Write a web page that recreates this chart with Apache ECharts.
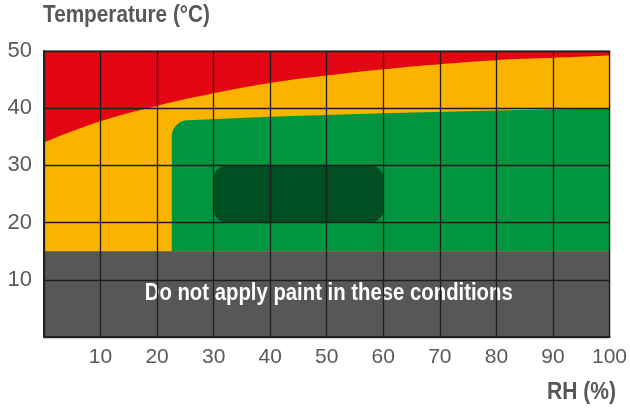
<!DOCTYPE html>
<html>
<head>
<meta charset="utf-8">
<script src="https://cdn.jsdelivr.net/npm/echarts@6/dist/echarts.min.js"></script>
<style>
  html, body { margin: 0; padding: 0; background: #fff; }
  #chart { width: 630px; height: 408px; }
</style>
</head>
<body>
<div id="chart"></div>
<script>
// RH (%) along the bottom, temperature (°C) up the side
const rhTicks = [0, 10, 20, 30, 40, 50, 60, 70, 80, 90, 100];
const tempTicks = [0, 10, 20, 30, 40, 50];

// upper limit: red above, orange below
const limitRh = [0, 10, 20, 30, 40, 50, 60, 70, 80, 90, 100];
const limitTemp = [34.0, 37.7, 40.4, 42.6, 44.4, 45.7, 46.8, 47.7, 48.4, 48.8, 49.2];

// green zone (top edge), bottom sits on the grey band
const goodRh = [22.6, 40, 60, 80, 100];
const goodTop = [37.9, 38.5, 39.1, 39.6, 40.0];

// dark green ideal box
const idealRh = [30, 60];
const idealTemp = [20, 30];

// grey band
const noPaintRh = [0, 100];
const noPaintTemp = [0, 15];
const noPaintText = 'Do not apply paint in these conditions';

const FONT = "'Liberation Sans', Arial, sans-serif";

// no condensed font installed, so squeeze bold text to the reference width
const ctx = document.createElement('canvas').getContext('2d');
function squeeze(text, font, width) {
  ctx.font = font;
  return width / ctx.measureText(text).width;
}

const titleFont = 'bold 23px ' + FONT;
const bandFont = 'bold 24px ' + FONT;

const myChart = echarts.init(document.getElementById('chart'));

const option = {
  animation: false,
  grid: {
    left: 44, right: 14, top: 51, bottom: 71,
    show: true,
    borderColor: '#7a7a7a',
    borderWidth: 1.5
  },
  graphic: [
    {
      type: 'text', x: 43, y: 16,
      scaleX: squeeze('Temperature (°C)', titleFont, 167),
      style: { text: 'Temperature (°C)', fill: '#58585a', font: titleFont, align: 'left', verticalAlign: 'middle' }
    },
    {
      type: 'text', x: 616, y: 393,
      scaleX: squeeze('RH (%)', titleFont, 69),
      style: { text: 'RH (%)', fill: '#58585a', font: titleFont, align: 'right', verticalAlign: 'middle' }
    }
  ],
  xAxis: {
    type: 'value',
    min: rhTicks[0], max: rhTicks[rhTicks.length - 1], interval: 10,
    z: 10,
    axisLine: { show: true, onZero: false, lineStyle: { color: '#222', width: 2 } },
    axisTick: { show: false },
    splitLine: { show: true, lineStyle: { color: '#1e1e1e', width: 1.3 } },
    axisLabel: {
      margin: 10, color: '#5a5a5a', fontSize: 21, fontFamily: FONT,
      formatter: (v) => (v === 0 ? '' : String(v))
    }
  },
  yAxis: {
    type: 'value',
    min: tempTicks[0], max: tempTicks[tempTicks.length - 1], interval: 10,
    z: 10,
    axisLine: { show: true, onZero: false, lineStyle: { color: '#222', width: 2 } },
    axisTick: { show: false },
    splitLine: { show: true, lineStyle: { color: '#1e1e1e', width: 1.3 } },
    axisLabel: {
      margin: 12, color: '#5a5a5a', fontSize: 22, fontFamily: FONT,
      formatter: (v) => (v === 0 ? '' : String(v))
    }
  },
  series: [
    {
      // red: everything up to the top
      type: 'line',
      data: [[rhTicks[0], tempTicks[tempTicks.length - 1]], [rhTicks[rhTicks.length - 1], tempTicks[tempTicks.length - 1]]],
      symbol: 'none',
      lineStyle: { width: 0 },
      areaStyle: { color: '#e30613', opacity: 1 },
      z: 1
    },
    {
      // orange under the limit curve
      type: 'line',
      data: limitRh.map((x, i) => [x, limitTemp[i]]),
      smooth: true,
      symbol: 'none',
      lineStyle: { width: 0 },
      areaStyle: { color: '#fab400', opacity: 1 },
      z: 2
    },
    {
      // green zone with rounded top-left corner
      type: 'custom',
      z: 3,
      data: [[0]],
      renderItem: (params, api) => {
        const r = 16;
        const bl = api.coord([goodRh[0], noPaintTemp[1]]);
        const tl = api.coord([goodRh[0], goodTop[0]]);
        const pts = [bl, [tl[0], tl[1] + r]];
        const cx = tl[0] + r, cy = tl[1] + r;
        for (let k = 1; k <= 12; k++) {
          const a = Math.PI + (Math.PI / 2) * (k / 12);
          pts.push([cx + r * Math.cos(a), cy + r * Math.sin(a)]);
        }
        for (let i = 1; i < goodRh.length; i++) {
          pts.push(api.coord([goodRh[i], goodTop[i]]));
        }
        pts.push(api.coord([goodRh[goodRh.length - 1], noPaintTemp[1]]));
        return {
          type: 'polygon',
          shape: { points: pts },
          style: { fill: '#009640' }
        };
      }
    },
    {
      // dark green ideal box
      type: 'custom',
      z: 4,
      data: [[0]],
      renderItem: (params, api) => {
        const p1 = api.coord([idealRh[0], idealTemp[1]]);
        const p2 = api.coord([idealRh[1], idealTemp[0]]);
        return {
          type: 'rect',
          shape: { x: p1[0], y: p1[1], width: p2[0] - p1[0], height: p2[1] - p1[1], r: 13 },
          style: { fill: '#004f22' }
        };
      }
    },
    {
      // grey "do not paint" band
      type: 'custom',
      z: 5,
      data: [[0]],
      renderItem: (params, api) => {
        const p1 = api.coord([noPaintRh[0], noPaintTemp[1]]);
        const p2 = api.coord([noPaintRh[1], noPaintTemp[0]]);
        const c = api.coord([50.35, 7.6]);
        return {
          type: 'group',
          children: [
            {
              type: 'rect',
              shape: { x: p1[0], y: p1[1], width: p2[0] - p1[0], height: p2[1] - p1[1] },
              style: { fill: '#575756' }
            },
            {
              type: 'text',
              x: c[0], y: c[1],
              scaleX: squeeze(noPaintText, bandFont, 368),
              style: {
                text: noPaintText, fill: '#fff', font: bandFont,
                align: 'center', verticalAlign: 'middle'
              }
            }
          ]
        };
      }
    }
  ]
};

myChart.setOption(option);
</script>
</body>
</html>
